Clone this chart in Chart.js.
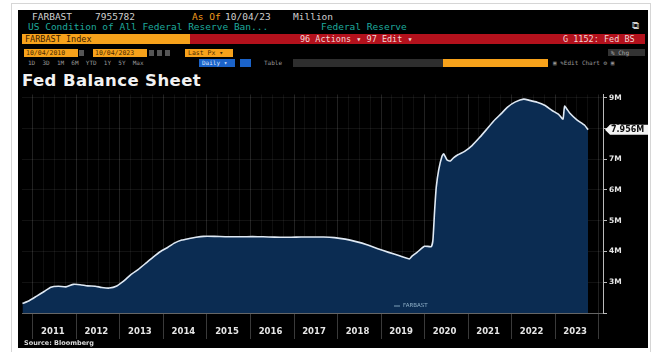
<!DOCTYPE html>
<html>
<head>
<meta charset="utf-8">
<script src="https://cdn.jsdelivr.net/npm/chart.js@4.4.0/dist/chart.umd.min.js"></script>
<style>
  body{margin:0;background:#fff;width:656px;height:352px;overflow:hidden;position:relative;font-family:"DejaVu Sans Mono",monospace;}
  .frame{position:absolute;left:11px;top:3px;width:640px;height:352px;border:1px solid #d6d6d6;box-sizing:border-box;}
  .panel{position:absolute;left:18px;top:10px;width:630px;height:338px;background:#000;}
  .t{position:absolute;white-space:nowrap;font-size:9.5px;line-height:10px;}
  .box{position:absolute;}
  .title{position:absolute;left:22px;top:71px;color:#f2f2f2;font:bold 16.5px "DejaVu Sans",sans-serif;letter-spacing:0.4px;}
  #wrap{position:absolute;left:18px;top:88px;width:630px;height:252px;}
  .src{position:absolute;left:24px;top:339px;color:#ddd;font:bold 6.5px "DejaVu Sans",sans-serif;}
</style>
</head>
<body>
<div class="frame"></div>
<div class="panel"></div>

<!-- row 1 -->
<div class="t" style="left:32px;top:12px;color:#cfcfcf">FARBAST</div>
<div class="t" style="left:95px;top:12px;color:#cfcfcf">7955782</div>
<div class="t" style="left:192px;top:12px;color:#f29b1c">As Of</div>
<div class="t" style="left:225px;top:12px;color:#cfcfcf">10/04/23</div>
<div class="t" style="left:293px;top:12px;color:#cfcfcf">Million</div>
<!-- row 2 -->
<div class="t" style="left:28px;top:22px;color:#1ea99c">US Condition of All Federal Reserve Ban...</div>
<div class="t" style="left:321px;top:22px;color:#1ea99c">Federal Reserve</div>
<div class="t" style="left:632px;top:21px;color:#cfcfcf;font-size:10px">&#x29C9;</div>
<!-- row 3 -->
<div class="box" style="left:22px;top:34px;width:168px;height:10px;background:#f7a21b"></div>
<div class="box" style="left:190px;top:34px;width:455px;height:10px;background:#b3111c"></div>
<div class="t" style="left:25px;top:34px;color:#3a2000;font-size:8.5px">FARBAST Index</div>
<div class="t" style="left:300px;top:34px;color:#f2d6d6;font-size:8.5px">96 Actions &#9662;  97 Edit &#9662;</div>
<div class="t" style="left:563px;top:34px;color:#f2d6d6;font-size:8.5px">G 1152: Fed BS</div>
<!-- row 4 -->
<div class="box" style="left:24px;top:49px;width:54px;height:8px;background:#f7a21b"></div>
<div class="box" style="left:79px;top:50px;width:5px;height:6px;background:#555"></div>
<div class="box" style="left:93px;top:49px;width:54px;height:8px;background:#f7a21b"></div>
<div class="box" style="left:149px;top:50px;width:5px;height:6px;background:#555"></div>
<div class="box" style="left:157px;top:50px;width:5px;height:6px;background:#555"></div>
<div class="box" style="left:165px;top:50px;width:5px;height:6px;background:#555"></div>
<div class="box" style="left:185px;top:49px;width:48px;height:8px;background:#f7a21b"></div>
<div class="t" style="left:26px;top:49px;color:#4a2a00;font-size:6.5px;line-height:8px">10/04/2010</div>
<div class="t" style="left:95px;top:49px;color:#4a2a00;font-size:6.5px;line-height:8px">10/04/2023</div>
<div class="t" style="left:188px;top:49px;color:#4a2a00;font-size:6.5px;line-height:8px">Last Px &#9662;</div>
<div class="box" style="left:608px;top:49px;width:37px;height:7px;background:#333"></div>
<div class="t" style="left:611px;top:49px;color:#aaa;font-size:6px;line-height:7px">% Chg</div>
<!-- row 5 -->
<div class="t" style="left:28px;top:59px;color:#999;font-size:6px;line-height:8px">1D&nbsp;&nbsp;3D&nbsp;&nbsp;1M&nbsp;&nbsp;6M&nbsp;&nbsp;YTD&nbsp;&nbsp;1Y&nbsp;&nbsp;5Y&nbsp;&nbsp;Max</div>
<div class="box" style="left:199px;top:59px;width:36px;height:8px;background:#1b63c9"></div>
<div class="t" style="left:202px;top:59px;color:#dde8ff;font-size:6px;line-height:8px">Daily &#9662;</div>
<div class="box" style="left:240px;top:59px;width:11px;height:8px;background:#1b63c9"></div>
<div class="t" style="left:264px;top:59px;color:#999;font-size:6px;line-height:8px">Table</div>
<div class="box" style="left:293px;top:59px;width:150px;height:8px;background:#2e2e2e"></div>
<div class="box" style="left:443px;top:59px;width:105px;height:8px;background:#f7a21b"></div>
<div class="t" style="left:553px;top:59px;color:#999;font-size:6px;line-height:8px">&#9635; &#9998;Edit Chart &#9881; &#9635;</div>

<div class="title">Fed Balance Sheet</div>
<div id="wrap"><canvas id="c"></canvas></div>
<div class="src">Source: Bloomberg</div>

<script>
const dates = ['2010-10-06','2010-12-01','2011-02-02','2011-04-06','2011-06-01','2011-08-03','2011-10-05','2011-12-07',
  '2012-02-01','2012-04-04','2012-06-06','2012-08-01','2012-10-03','2012-12-05','2013-02-06','2013-04-03','2013-06-05',
  '2013-08-07','2013-10-02','2013-12-04','2014-02-05','2014-04-02','2014-06-04','2014-08-06','2014-10-01','2014-12-03',
  '2015-03-04','2015-06-03','2015-09-02','2015-12-02','2016-03-02','2016-06-01','2016-09-07','2016-12-07','2017-03-01',
  '2017-06-07','2017-09-06','2017-12-06','2018-03-07','2018-06-06','2018-09-05','2018-12-05','2019-03-06','2019-06-05',
  '2019-08-28','2019-09-18','2019-10-30','2019-12-31','2020-02-26','2020-03-11','2020-03-25','2020-04-08','2020-04-29',
  '2020-05-27','2020-06-10','2020-07-08','2020-08-05','2020-09-02','2020-10-07','2020-12-02','2021-02-03','2021-04-07',
  '2021-06-02','2021-08-04','2021-10-06','2021-12-01','2022-02-02','2022-04-13','2022-06-01','2022-08-03','2022-10-05',
  '2022-12-07','2023-02-01','2023-03-08','2023-03-22','2023-05-03','2023-07-05','2023-09-06','2023-10-04'];
const assets = [2.31,2.40,2.55,2.70,2.84,2.87,2.85,2.93,
  2.92,2.88,2.87,2.83,2.81,2.88,3.05,3.25,3.42,
  3.62,3.80,3.99,4.13,4.27,4.37,4.42,4.46,4.49,
  4.49,4.48,4.48,4.48,4.48,4.47,4.46,4.46,4.47,
  4.47,4.47,4.45,4.40,4.32,4.22,4.09,3.97,3.86,
  3.76,3.85,3.97,4.17,4.16,4.36,5.30,6.08,6.66,
  7.10,7.17,6.97,6.94,7.05,7.14,7.25,7.44,7.70,
  7.95,8.24,8.48,8.70,8.86,8.95,8.91,8.85,8.75,
  8.58,8.45,8.30,8.72,8.50,8.27,8.10,7.956];
const yearLabels = ['2011','2012','2013','2014','2015','2016','2017','2018','2019','2020','2021','2022','2023'];
const yTicks = [2,3,4,5,6,7,8,9];
const lastLabel = '7.956M';
const seriesName = 'FARBAST';

function toYear(s){
  let d=new Date(s+'T00:00:00Z');
  let y=d.getUTCFullYear();
  return y+(d-Date.UTC(y,0,1))/(365.25*864e5);
}
let pts=dates.map((d,i)=>({x:toYear(d),y:assets[i]}));

// value tag on the axis + little in-chart legend
const tagPlugin={
  id:'tag',
  afterDraw(chart){
    let ctx=chart.ctx, ys=chart.scales.y, ca=chart.chartArea;
    let v=assets[assets.length-1];
    let py=ys.getPixelForValue(v);
    let x0=ys.left+2;
    ctx.save();
    ctx.fillStyle='#f4f4f4';
    ctx.beginPath();
    ctx.moveTo(x0,py);
    ctx.lineTo(x0+5,py-5);
    ctx.lineTo(x0+44,py-5);
    ctx.lineTo(x0+44,py+5);
    ctx.lineTo(x0+5,py+5);
    ctx.closePath();
    ctx.fill();
    ctx.fillStyle='#111';
    ctx.font='bold 8px "DejaVu Sans"';
    ctx.textBaseline='middle';
    ctx.fillText(lastLabel,x0+6,py+0.5);
    // legend
    ctx.strokeStyle='#7fa0b8';
    ctx.lineWidth=1;
    ctx.beginPath();
    ctx.moveTo(ca.left+372,ca.bottom-7);
    ctx.lineTo(ca.left+378,ca.bottom-7);
    ctx.stroke();
    ctx.fillStyle='#8fb0c8';
    ctx.font='5.5px "DejaVu Sans"';
    ctx.fillText(seriesName,ca.left+381,ca.bottom-7);
    ctx.restore();
  }
};

new Chart(document.getElementById('c'),{
  type:'line',
  data:{
    datasets:[{
      label:seriesName,
      data:pts,
      borderColor:'#dfe9f4',
      borderWidth:1.6,
      backgroundColor:'#0b2c52',
      fill:'start',
      pointRadius:0,
      tension:0.15
    }]
  },
  options:{
    responsive:true,
    maintainAspectRatio:false,
    animation:false,
    layout:{padding:{left:4,top:6,right:0,bottom:0}},
    plugins:{legend:{display:false},tooltip:{enabled:false}},
    scales:{
      x:{
        type:'linear',
        min:2010.75,
        max:2024.1,
        z:1,
        afterFit(s){s.height=27;},
        afterBuildTicks(s){
          let t=[];
          for(let q=2011*4;q<=2024*4;q++) t.push({value:q/4});
          s.ticks=t;
        },
        ticks:{
          autoSkip:false,
          maxRotation:0,
          color:'#e6e6e6',
          font:{family:'DejaVu Sans',size:8.5,weight:'bold'},
          labelOffset:20,
          padding:-12,
          callback:(v)=>{
            if(Math.abs(v-Math.round(v))>1e-6) return '';
            let i=yearLabels.indexOf(String(Math.round(v)));
            return i<0?'':yearLabels[i];
          }
        },
        grid:{
          color:(c)=>{
            let v=c.tick?c.tick.value:0;
            return Math.abs(v-Math.round(v))<1e-6?'rgba(255,255,255,0.13)':'rgba(255,255,255,0.06)';
          },
          tickColor:(c)=>{
            let v=c.tick?c.tick.value:0;
            return Math.abs(v-Math.round(v))<1e-6?'#3a3a3a':'rgba(0,0,0,0)';
          },
          tickLength:26
        },
        border:{display:true,color:'#666'}
      },
      y:{
        position:'right',
        min:2,
        max:9.1,
        z:1,
        afterFit(s){s.width=45;},
        afterBuildTicks(s){s.ticks=yTicks.map(v=>({value:v}));},
        ticks:{
          color:'#e6e6e6',
          font:{family:'DejaVu Sans',size:7.5,weight:'bold'},
          padding:2,
          callback:(v)=>v===yTicks[0]?'':v+'M'
        },
        grid:{
          color:'rgba(255,255,255,0.07)',
          tickColor:'#bbb',
          tickLength:4
        },
        border:{display:true,color:'#bbb'}
      }
    }
  },
  plugins:[tagPlugin]
});
</script>
</body>
</html>
